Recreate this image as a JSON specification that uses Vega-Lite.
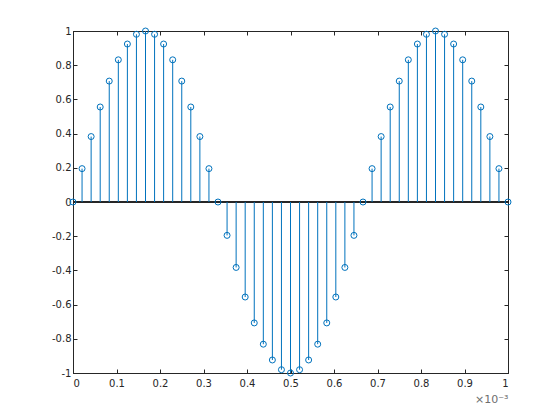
{
  "$schema": "https://vega.github.io/schema/vega-lite/v6.json",
  "width": 435,
  "height": 342,
  "autosize": {"type": "none"},
  "padding": {"left": 73, "top": 31, "right": 52, "bottom": 47},
  "background": "white",
  "config": {
    "view": {"stroke": "#262626", "strokeWidth": 1},
    "axis": {
      "labelFont": "DejaVu Sans",
      "labelFontSize": 10,
      "labelColor": "#262626",
      "domainColor": "#262626",
      "tickColor": "#262626",
      "grid": false,
      "tickSize": -4,
      "labelPadding": 6,
      "titleFont": "DejaVu Sans",
      "titleFontWeight": "normal"
    }
  },
  "data": {"values": [
    {"t": 0, "v": 0},
    {"t": 0.0208333, "v": 0.19509},
    {"t": 0.0416667, "v": 0.38268},
    {"t": 0.0625, "v": 0.55557},
    {"t": 0.0833333, "v": 0.70711},
    {"t": 0.1041667, "v": 0.83147},
    {"t": 0.125, "v": 0.92388},
    {"t": 0.1458333, "v": 0.98079},
    {"t": 0.1666667, "v": 1},
    {"t": 0.1875, "v": 0.98079},
    {"t": 0.2083333, "v": 0.92388},
    {"t": 0.2291667, "v": 0.83147},
    {"t": 0.25, "v": 0.70711},
    {"t": 0.2708333, "v": 0.55557},
    {"t": 0.2916667, "v": 0.38268},
    {"t": 0.3125, "v": 0.19509},
    {"t": 0.3333333, "v": 0},
    {"t": 0.3541667, "v": -0.19509},
    {"t": 0.375, "v": -0.38268},
    {"t": 0.3958333, "v": -0.55557},
    {"t": 0.4166667, "v": -0.70711},
    {"t": 0.4375, "v": -0.83147},
    {"t": 0.4583333, "v": -0.92388},
    {"t": 0.4791667, "v": -0.98079},
    {"t": 0.5, "v": -1},
    {"t": 0.5208333, "v": -0.98079},
    {"t": 0.5416667, "v": -0.92388},
    {"t": 0.5625, "v": -0.83147},
    {"t": 0.5833333, "v": -0.70711},
    {"t": 0.6041667, "v": -0.55557},
    {"t": 0.625, "v": -0.38268},
    {"t": 0.6458333, "v": -0.19509},
    {"t": 0.6666667, "v": 0},
    {"t": 0.6875, "v": 0.19509},
    {"t": 0.7083333, "v": 0.38268},
    {"t": 0.7291667, "v": 0.55557},
    {"t": 0.75, "v": 0.70711},
    {"t": 0.7708333, "v": 0.83147},
    {"t": 0.7916667, "v": 0.92388},
    {"t": 0.8125, "v": 0.98079},
    {"t": 0.8333333, "v": 1},
    {"t": 0.8541667, "v": 0.98079},
    {"t": 0.875, "v": 0.92388},
    {"t": 0.8958333, "v": 0.83147},
    {"t": 0.9166667, "v": 0.70711},
    {"t": 0.9375, "v": 0.55557},
    {"t": 0.9583333, "v": 0.38268},
    {"t": 0.9791667, "v": 0.19509},
    {"t": 1, "v": 0}
  ]},
  "layer": [
    {
      "mark": {"type": "rule", "color": "#262626", "strokeWidth": 1},
      "encoding": {
        "y": {"datum": 0, "type": "quantitative", "scale": {"domain": [-1, 1], "nice": false, "zero": false},
          "axis": {"orient": "left", "title": null, "values": [-1, -0.8, -0.6, -0.4, -0.2, 0, 0.2, 0.4, 0.6, 0.8, 1],
            "labelExpr": "datum.value < 0 ? '-' + format(-datum.value, '~g') : format(datum.value, '~g')"}}
      }
    },
    {
      "mark": {"type": "rule", "color": "#0072BD", "strokeWidth": 1},
      "encoding": {
        "x": {"field": "t", "type": "quantitative", "scale": {"domain": [0, 1], "nice": false, "zero": false},
          "axis": {"orient": "bottom", "values": [0, 0.1, 0.2, 0.3, 0.4, 0.5, 0.6, 0.7, 0.8, 0.9, 1],
            "labelExpr": "format(datum.value, '~g')", "labelPadding": 9,
            "title": "×10⁻³", "titleAnchor": "end", "titleAlign": "right", "titleFontSize": 11, "titleColor": "#6e6e6e", "titlePadding": 5}},
        "y": {"field": "v", "type": "quantitative", "axis": null},
        "y2": {"datum": 0}
      }
    },
    {
      "mark": {"type": "point", "shape": "circle", "filled": false, "color": "#0072BD", "strokeWidth": 1, "size": 36, "opacity": 1},
      "encoding": {
        "x": {"field": "t", "type": "quantitative",
          "axis": {"orient": "top", "values": [0, 0.1, 0.2, 0.3, 0.4, 0.5, 0.6, 0.7, 0.8, 0.9, 1], "labels": false, "title": null}},
        "y": {"field": "v", "type": "quantitative",
          "axis": {"orient": "right", "values": [-1, -0.8, -0.6, -0.4, -0.2, 0, 0.2, 0.4, 0.6, 0.8, 1], "labels": false, "title": null}}
      }
    }
  ]
}
